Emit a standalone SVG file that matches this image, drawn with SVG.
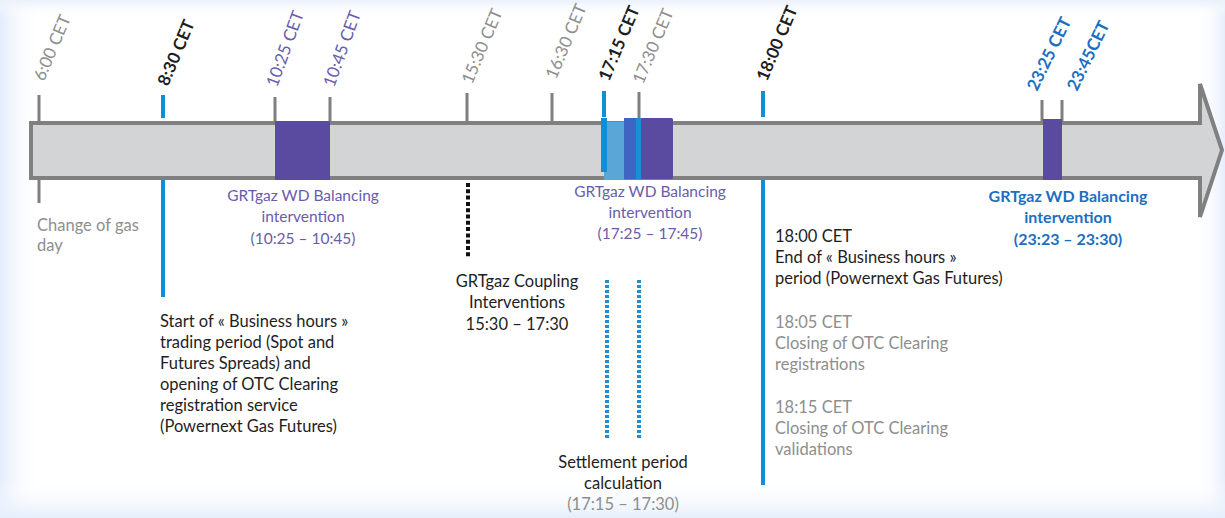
<svg xmlns="http://www.w3.org/2000/svg" width="1225" height="518" viewBox="0 0 1225 518">
<defs>
<linearGradient id="gl" x1="0" y1="0" x2="1" y2="0"><stop offset="0" stop-color="#e3ecfb"/><stop offset="1" stop-color="#ffffff" stop-opacity="0"/></linearGradient>
<linearGradient id="gr" x1="1" y1="0" x2="0" y2="0"><stop offset="0" stop-color="#e6eefb"/><stop offset="1" stop-color="#ffffff" stop-opacity="0"/></linearGradient>
<linearGradient id="gt" x1="0" y1="0" x2="0" y2="1"><stop offset="0" stop-color="#eaf1fb"/><stop offset="1" stop-color="#ffffff" stop-opacity="0"/></linearGradient>
<linearGradient id="gb" x1="0" y1="1" x2="0" y2="0"><stop offset="0" stop-color="#e6eefb"/><stop offset="1" stop-color="#ffffff" stop-opacity="0"/></linearGradient>
<style>
text{font-family:Lato,"Open Sans","Liberation Sans",sans-serif;font-size:16.5px}
.rot{font-size:17px}
.gray{fill:#8e8e8e}
.blk{fill:#1e1e1e}
.pur{fill:#6a5cab;font-size:15.5px}
.rot.pur{font-size:17px}
.blu{fill:#1b6fc2;font-weight:bold;font-size:16px}
.rot.blu{font-size:17px}
.bold{font-weight:bold}
.mid{text-anchor:middle}
.tick{stroke:#7f7f7f;stroke-width:3}
.btick{stroke:#0f8fd6;stroke-width:4}
.purfill{fill:#5a4aa0}
</style>
</defs>
<rect width="1225" height="518" fill="#ffffff"/>
<rect x="0" y="0" width="40" height="518" fill="url(#gl)"/>
<rect x="1195" y="0" width="30" height="518" fill="url(#gr)"/>
<rect x="0" y="0" width="1225" height="18" fill="url(#gt)"/>
<rect x="0" y="478" width="1225" height="40" fill="url(#gb)"/>

<g id="timeline-arrow">
<path d="M31,123 H1200 V84 L1222,150 L1200,217 V178 H31 Z" fill="#d3d4d6" stroke="#808080" stroke-width="4" stroke-linejoin="miter"/>
</g>

<g id="connectors">
<line class="tick" x1="39" y1="95" x2="39" y2="121"/>
<line class="tick" x1="39" y1="180" x2="39" y2="203"/>
<line class="btick" x1="163" y1="95" x2="163" y2="118"/>
<line class="btick" x1="163" y1="180" x2="163" y2="297"/>
<line class="tick" x1="275" y1="97" x2="275" y2="121"/>
<line class="tick" x1="330" y1="97" x2="330" y2="121"/>
<line class="tick" x1="467" y1="93" x2="467" y2="121"/>
<line class="tick" x1="552" y1="93" x2="552" y2="121"/>
<line class="btick" x1="604" y1="91" x2="604" y2="117"/>
<line class="tick" x1="639" y1="92" x2="639" y2="121"/>
<line class="btick" x1="763" y1="91" x2="763" y2="117"/>
<line class="btick" x1="763" y1="180" x2="763" y2="485"/>
<line class="tick" x1="1042" y1="100" x2="1042" y2="121"/>
<line class="tick" x1="1062" y1="100" x2="1062" y2="121"/>
<line x1="468" y1="183" x2="468" y2="258" stroke="#111" stroke-width="4" stroke-dasharray="4 2.3"/>
<line x1="607" y1="280" x2="607" y2="440" stroke="#1a8ed6" stroke-width="4" stroke-dasharray="3 2"/>
<line x1="639" y1="280" x2="639" y2="440" stroke="#1a8ed6" stroke-width="4" stroke-dasharray="3 2"/>
</g>

<g id="balancing-1025">
<rect class="purfill" x="275" y="121" width="55" height="59"/>
<text class="pur mid" x="303" y="201">GRTgaz WD Balancing</text>
<text class="pur mid" x="303" y="222">intervention</text>
<text class="pur mid" x="303" y="244">(10:25 – 10:45)</text>
</g>

<g id="settlement-1715">
<rect x="604" y="122" width="21" height="58" fill="#5aa6d6"/>
<rect x="601" y="118" width="6" height="54" fill="#0d8ed6"/>
</g>

<g id="balancing-1725">
<rect x="624" y="118" width="49" height="61" rx="1.5" fill="#5a4aa0"/>
<rect x="624" y="118" width="13" height="61" fill="#3d66c2"/>
<rect x="636" y="118" width="5" height="61" fill="#1a8fd8"/>
<text class="pur mid" x="650" y="197">GRTgaz WD Balancing</text>
<text class="pur mid" x="650" y="218">intervention</text>
<text class="pur mid" x="650" y="239">(17:25 – 17:45)</text>
</g>

<g id="balancing-2325">
<rect class="purfill" x="1043" y="119" width="19" height="61"/>
<text class="blu mid" x="1068" y="202">GRTgaz WD Balancing</text>
<text class="blu mid" x="1068" y="223">intervention</text>
<text class="blu mid" x="1068" y="245">(23:23 – 23:30)</text>
</g>

<g id="time-labels">
<text class="rot gray" transform="translate(44,82) rotate(-67)">6:00 CET</text>
<text class="rot blk bold" transform="translate(168,87) rotate(-67)">8:30 CET</text>
<text class="rot pur" transform="translate(277,88) rotate(-70)">10:25 CET</text>
<text class="rot pur" transform="translate(334,88) rotate(-70)">10:45 CET</text>
<text class="rot gray" transform="translate(472,85) rotate(-67)">15:30 CET</text>
<text class="rot gray" transform="translate(556,80) rotate(-67)">16:30 CET</text>
<text class="rot blk bold" transform="translate(609,82) rotate(-67)">17:15 CET</text>
<text class="rot gray" transform="translate(643,85) rotate(-67)">17:30 CET</text>
<text class="rot blk bold" transform="translate(767,82) rotate(-67)">18:00 CET</text>
<text class="rot blu" transform="translate(1037,92) rotate(-64)">23:25 CET</text>
<text class="rot blu" transform="translate(1077,92) rotate(-64)">23:45CET</text>
</g>

<g id="change-of-gas-day">
<text class="gray" x="37" y="231">Change of gas</text>
<text class="gray" x="37" y="251">day</text>
</g>

<g id="business-start">
<text class="blk" x="160" y="327">Start of « Business hours »</text>
<text class="blk" x="160" y="348">trading period (Spot and</text>
<text class="blk" x="160" y="369">Futures Spreads) and</text>
<text class="blk" x="160" y="390">opening of OTC Clearing</text>
<text class="blk" x="160" y="411">registration service</text>
<text class="blk" x="160" y="432">(Powernext Gas Futures)</text>
</g>

<g id="coupling">
<text class="blk mid" x="517" y="287">GRTgaz Coupling</text>
<text class="blk mid" x="517" y="308">Interventions</text>
<text class="blk mid" x="517" y="330">15:30 – 17:30</text>
</g>

<g id="settlement-label">
<text class="blk mid" x="623" y="468">Settlement period</text>
<text class="blk mid" x="623" y="489">calculation</text>
<text class="gray mid" x="623" y="510">(17:15 – 17:30)</text>
</g>

<g id="business-end">
<text class="blk" x="775" y="242">18:00 CET</text>
<text class="blk" x="775" y="263">End of « Business hours »</text>
<text class="blk" x="775" y="284">period (Powernext Gas Futures)</text>
<text class="gray" x="775" y="328">18:05 CET</text>
<text class="gray" x="775" y="349">Closing of OTC Clearing</text>
<text class="gray" x="775" y="370">registrations</text>
<text class="gray" x="775" y="413">18:15 CET</text>
<text class="gray" x="775" y="434">Closing of OTC Clearing</text>
<text class="gray" x="775" y="455">validations</text>
</g>
</svg>
